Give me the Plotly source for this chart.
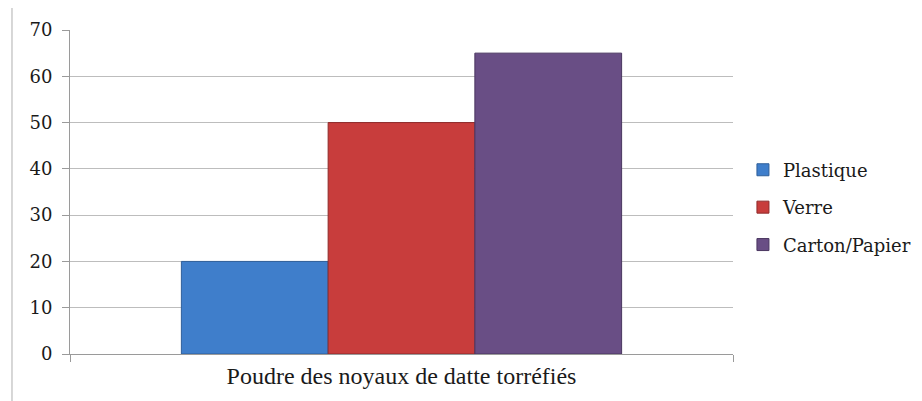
import plotly.graph_objects as go

categories = ["Poudre des noyaux de datte torréfiés"]
series_names = ["Plastique", "Verre", "Carton/Papier"]
plastique = [20]
verre = [50]
carton = [65]
y_ticks = [0, 10, 20, 30, 40, 50, 60, 70]

colors = ["#3f7ecb", "#c83d3c", "#694e85"]
edges = ["#2f5f9a", "#8f2a2a", "#4a3660"]
SERIF = '"Liberation Serif", "DejaVu Serif", serif'
SERIF2 = '"DejaVu Serif", "Liberation Serif", serif'

fig = go.Figure()
for name, vals, c, e in zip(series_names, [plastique, verre, carton], colors, edges):
    fig.add_trace(go.Bar(
        x=categories, y=vals, name=name, legendgroup=name,
        marker=dict(color=c, line=dict(color=e, width=1)),
    ))

fig.update_layout(
    width=914, height=393,
    margin=dict(l=62, r=189, t=22, b=47, autoexpand=False),
    paper_bgcolor="white", plot_bgcolor="white",
    barmode="group", bargap=0.336, bargroupgap=0,
    font=dict(family=SERIF, size=19, color="#1a1a1a"),
    legend=dict(
        x=1.015, xanchor="left", y=0.452, yanchor="middle",
        traceorder="grouped", tracegroupgap=11,
        font=dict(family=SERIF2, size=18, color="#1a1a1a"),
        itemwidth=30, bgcolor="rgba(0,0,0,0)",
    ),
    showlegend=True,
)
fig.update_yaxes(
    range=[0, 70], tickvals=y_ticks, showgrid=True, gridcolor="#bdbdbd", gridwidth=1,
    showline=True, linecolor="#9a9a9a", linewidth=1,
    ticks="outside", ticklen=7, tickcolor="#9a9a9a",
    ticklabelstandoff=6, zeroline=False,
    tickfont=dict(family=SERIF2, size=18, color="#1a1a1a"),
)
fig.update_xaxes(
    showline=True, linecolor="#9a9a9a", linewidth=1,
    ticks="outside", tickson="boundaries", ticklen=7, tickcolor="#9a9a9a",
    tickfont=dict(family=SERIF, size=24, color="#1a1a1a"),
)
fig.add_shape(type="line", xref="paper", yref="paper",
              x0=-0.0875, x1=-0.0875, y0=-0.2, y1=1.068,
              line=dict(color="#b0b0b0", width=1))

fig.write_html("out.html")
